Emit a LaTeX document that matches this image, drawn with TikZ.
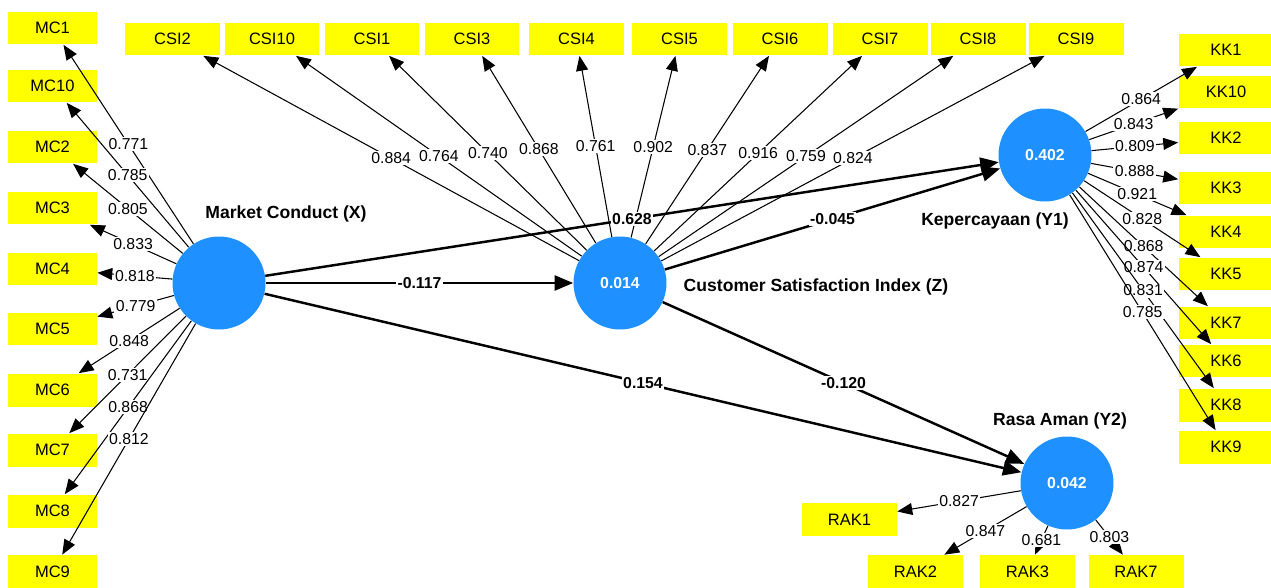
\documentclass[tikz,border=0pt]{standalone}
\usepackage{fontspec}
\setmainfont{Liberation Sans}
\usetikzlibrary{arrows.meta}

\definecolor{lvblue}{RGB}{30,144,255}
\definecolor{mvyellow}{RGB}{255,255,0}

\tikzset{
  lv/.style={circle, fill=lvblue, minimum size=1.86cm, inner sep=0pt, text=white, font=\fontsize{9}{10}\selectfont\bfseries},
  mv/.style={rectangle, fill=mvyellow, minimum width=1.9cm, minimum height=0.66cm, inner sep=0pt, font=\fontsize{9.4}{11}\selectfont},
  mvleft/.style={mv, minimum width=1.78cm},
  lvname/.style={font=\fontsize{10}{12}\selectfont\bfseries},
  load/.style={-{Triangle[length=8.5pt,width=6.8pt]}, line width=0.6pt},
  coef/.style={-{Triangle[length=10.5pt,width=8.5pt]}, line width=1.4pt},
  lw/.style={midway, fill=white, inner sep=0.8pt, font=\fontsize{9}{10}\selectfont},
  pc/.style={midway, fill=white, inner sep=0.8pt, font=\fontsize{9}{10}\selectfont\bfseries}
}

\begin{document}
\begin{tikzpicture}[x=0.02cm, y=-0.02cm]
\useasboundingbox (0,0) rectangle (1271,588);

% latent variables
\node[lv] (mc) at (219,283){};
\node[lv] (csi) at (620,283){0.014};
\node[lv] (kk) at (1045,155){0.402};
\node[lv] (rak) at (1067,483){0.042};

\node[lvname] at (286,214){Market Conduct (X)};
\node[lvname] at (816,287){Customer Satisfaction Index (Z)};
\node[lvname] at (995,221){Kepercayaan (Y1)};
\node[lvname] at (1060,421){Rasa Aman (Y2)};

% indicators of Market Conduct
\node[mvleft] (mc1) at (52.5,28){MC1};
\node[mvleft] (mc10) at (52.5,86){MC10};
\node[mvleft] (mc2) at (52.5,147){MC2};
\node[mvleft] (mc3) at (52.5,208){MC3};
\node[mvleft] (mc4) at (52.5,269){MC4};
\node[mvleft] (mc5) at (52.5,329){MC5};
\node[mvleft] (mc6) at (52.5,390){MC6};
\node[mvleft] (mc7) at (52.5,450){MC7};
\node[mvleft] (mc8) at (52.5,511){MC8};
\node[mvleft] (mc9) at (52.5,571.5){MC9};

% indicators of Customer Satisfaction Index
\node[mv] (csi2) at (172.5,39){CSI2};
\node[mv] (csi10) at (272,39){CSI10};
\node[mv] (csi1) at (372,39){CSI1};
\node[mv] (csi3) at (472,39){CSI3};
\node[mv] (csi4) at (576.5,39){CSI4};
\node[mv] (csi5) at (679.5,39){CSI5};
\node[mv] (csi6) at (780,39){CSI6};
\node[mv] (csi7) at (880,39){CSI7};
\node[mv] (csi8) at (978,39){CSI8};
\node[mv] (csi9) at (1076,39){CSI9};

% indicators of Kepercayaan
\node[mv] (kk1) at (1226,50){KK1};
\node[mv] (kk10) at (1226,92){KK10};
\node[mv] (kk2) at (1226,138){KK2};
\node[mv] (kk3) at (1226,188){KK3};
\node[mv] (kk4) at (1226,232){KK4};
\node[mv] (kk5) at (1226,274){KK5};
\node[mv] (kk7) at (1226,323){KK7};
\node[mv] (kk6) at (1226,361){KK6};
\node[mv] (kk8) at (1226,405){KK8};
\node[mv] (kk9) at (1226,447){KK9};

% indicators of Rasa Aman
\node[mv] (rak1) at (849.5,519.5){RAK1};
\node[mv] (rak2) at (915.5,571.5){RAK2};
\node[mv] (rak3) at (1027.5,571.5){RAK3};
\node[mv] (rak7) at (1136,571.5){RAK7};

% outer loadings
\draw[load] (mc)--(mc1) node[lw]{0.771};
\draw[load] (mc)--(mc10) node[lw]{0.785};
\draw[load] (mc)--(mc2) node[lw]{0.805};
\draw[load] (mc)--(mc3) node[lw]{0.833};
\draw[load] (mc)--(mc4) node[lw]{0.818};
\draw[load] (mc)--(mc5) node[lw]{0.779};
\draw[load] (mc)--(mc6) node[lw]{0.848};
\draw[load] (mc)--(mc7) node[lw]{0.731};
\draw[load] (mc)--(mc8) node[lw]{0.868};
\draw[load] (mc)--(mc9) node[lw]{0.812};

\draw[load] (csi)--(csi2) node[lw]{0.884};
\draw[load] (csi)--(csi10) node[lw]{0.764};
\draw[load] (csi)--(csi1) node[lw]{0.740};
\draw[load] (csi)--(csi3) node[lw]{0.868};
\draw[load] (csi)--(csi4) node[lw]{0.761};
\draw[load] (csi)--(csi5) node[lw]{0.902};
\draw[load] (csi)--(csi6) node[lw]{0.837};
\draw[load] (csi)--(csi7) node[lw]{0.916};
\draw[load] (csi)--(csi8) node[lw]{0.759};
\draw[load] (csi)--(csi9) node[lw]{0.824};

\draw[load] (kk)--(kk1) node[lw]{0.864};
\draw[load] (kk)--(kk10) node[lw]{0.843};
\draw[load] (kk)--(kk2) node[lw]{0.809};
\draw[load] (kk)--(kk3) node[lw]{0.888};
\draw[load] (kk)--(kk4) node[lw]{0.921};
\draw[load] (kk)--(kk5) node[lw]{0.828};
\draw[load] (kk)--(kk7) node[lw]{0.868};
\draw[load] (kk)--(kk6) node[lw]{0.874};
\draw[load] (kk)--(kk8) node[lw]{0.831};
\draw[load] (kk)--(kk9) node[lw]{0.785};

\draw[load] (rak)--(rak1) node[lw]{0.827};
\draw[load] (rak)--(rak2) node[lw]{0.847};
\draw[load] (rak)--(rak3) node[lw]{0.681};
\draw[load] (rak)--(rak7) node[lw]{0.803};

% path coefficients
\draw[coef] (mc)--(csi) node[pc]{-0.117};
\draw[coef] (mc)--(kk) node[pc]{0.628};
\draw[coef] (csi)--(kk) node[pc]{-0.045};
\draw[coef] (mc)--(rak) node[pc]{0.154};
\draw[coef] (csi)--(rak) node[pc]{-0.120};
\end{tikzpicture}
\end{document}
